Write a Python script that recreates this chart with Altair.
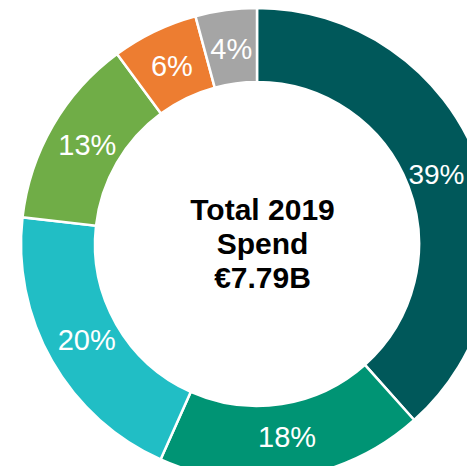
import altair as alt
import pandas as pd

categories = ["A", "B", "C", "D", "E", "F"]
values = [38.4, 18.3, 20.1, 13.1, 5.9, 4.2]
labels = ["39%", "18%", "20%", "13%", "6%", "4%"]
colors = ["#00585A", "#009474", "#21BEC5", "#70AD47", "#ED7D31", "#A5A5A5"]
center_lines = ["Total 2019", "Spend", "€7.79B"]

df = pd.DataFrame({
    "cat": categories,
    "value": values,
    "label": labels,
    "idx": list(range(len(categories))),
})

cx, cy = 249, 236

base = alt.Chart(df).encode(
    theta=alt.Theta("value:Q", stack=True),
    order=alt.Order("idx:Q"),
    x=alt.value(cx),
    y=alt.value(cy),
)

arcs = base.mark_arc(innerRadius=162, outerRadius=236, stroke="white", strokeWidth=2.5).encode(
    color=alt.Color("cat:N", scale=alt.Scale(domain=categories, range=colors), legend=None),
)

text_main = base.mark_text(radius=196, fontSize=29, font="Liberation Sans", color="white",
                           align="center", baseline="middle").encode(
    text=alt.condition("datum.idx != 0", alt.Text("label:N"), alt.value("")),
)

text_first = base.mark_text(radius=192, fontSize=28, font="Liberation Sans", color="white",
                            align="center", baseline="middle").encode(
    text=alt.condition("datum.idx == 0", alt.Text("label:N"), alt.value("")),
)

center = alt.Chart(pd.DataFrame({"t": [center_lines]})).mark_text(
    font="Liberation Sans", fontSize=30, fontWeight="bold", color="black",
    align="center", baseline="middle", lineHeight=34,
).encode(
    text="t",
    x=alt.value(254.5),
    y=alt.value(203),
)

chart = (arcs + text_main + text_first + center).properties(
    width=459, height=458, padding=0,
    autosize=alt.AutoSizeParams(type="none"),
).configure_view(stroke=None)

chart.save("out.html", embed_options={"renderer": "svg", "actions": False})
